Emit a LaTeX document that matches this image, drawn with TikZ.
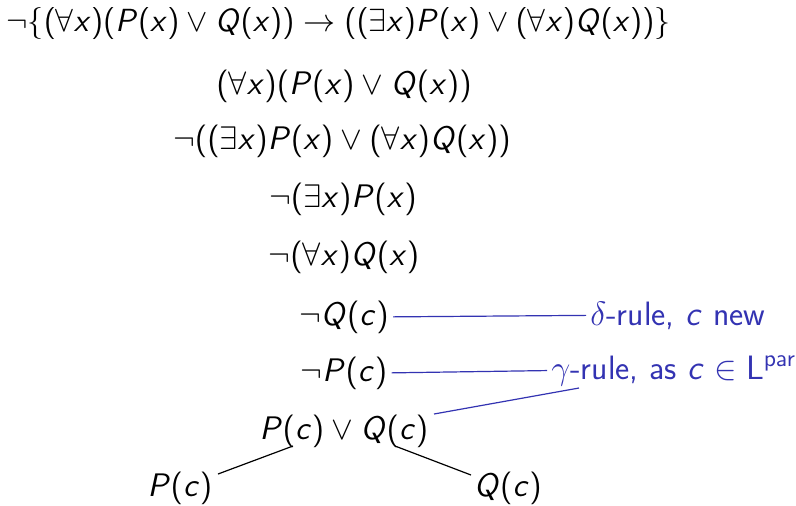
\RequirePackage{fix-cm}
\documentclass[tikz,border=0pt]{standalone}
\usepackage{xcolor}
\usetikzlibrary{calc}
\DeclareSymbolFont{sfletters}{OT1}{cmss}{m}{sl}
\SetSymbolFont{operators}{normal}{OT1}{cmss}{m}{n}
\DeclareMathSymbol{x}{\mathalpha}{sfletters}{`x}
\DeclareMathSymbol{P}{\mathalpha}{sfletters}{`P}
\DeclareMathSymbol{Q}{\mathalpha}{sfletters}{`Q}
\DeclareMathSymbol{c}{\mathalpha}{sfletters}{`c}
\definecolor{struct}{rgb}{0.2,0.2,0.7}
\begin{document}
\begin{tikzpicture}[x=0.5pt,y=-0.5pt,
  fml/.style={font=\fontsize{16.3}{20}\selectfont\sffamily, inner sep=2pt, anchor=base},
  note/.style={font=\fontsize{16.9}{20}\selectfont\sffamily, text=struct, inner sep=2pt, anchor=base west},
  bline/.style={draw=struct, line width=0.6pt},
  tline/.style={draw=black, line width=0.6pt}]
\useasboundingbox (0,0) rectangle (796,505);
\node[fml, font=\fontsize{16.0}{20}\selectfont\sffamily] (L1) at (338.5,31) {$\neg\{(\forall x)(P(x)\vee Q(x))\rightarrow((\exists x)P(x)\vee(\forall x)Q(x))\}$};
\node[fml] (L2) at (344,94) {$(\forall x)(P(x)\vee Q(x))$};
\node[fml] (L3) at (342,149) {$\neg((\exists x)P(x)\vee(\forall x)Q(x))$};
\node[fml] (L4) at (343,207) {$\neg(\exists x)P(x)$};
\node[fml] (L5) at (344,265) {$\neg(\forall x)Q(x)$};
\node[fml] (L6) at (344,325) {$\neg Q(c)$};
\node[fml] (L7) at (344,381) {$\neg P(c)$};
\node[fml] (L8) at (344,439) {$P(c)\vee Q(c)$};
\node[fml] (L9) at (180,496) {$P(c)$};
\node[fml] (L10) at (508,496) {$Q(c)$};
\node[note] (dl) at (586,325) {$\delta$-rule, $c$ new};
\node[note] (gm) at (547,379) {$\gamma$-rule, as $c\in\mathsf{L}^{\mathsf{par}}$};
\coordinate (gfoot) at (579,388);
\coordinate (dtop) at (434,414);
\coordinate (dl1) at (293,446);
\coordinate (dr1) at (395,446);
\coordinate (pl) at (218,474);
\coordinate (qr) at (471,475);
\draw[bline] (L6.east) -- (dl.west);
\draw[bline] (L7.east) -- (gm.west);
\draw[bline] (gfoot) -- (dtop);
\draw[tline] (dl1) -- (pl);
\draw[tline] (dr1) -- (qr);
\end{tikzpicture}
\end{document}
